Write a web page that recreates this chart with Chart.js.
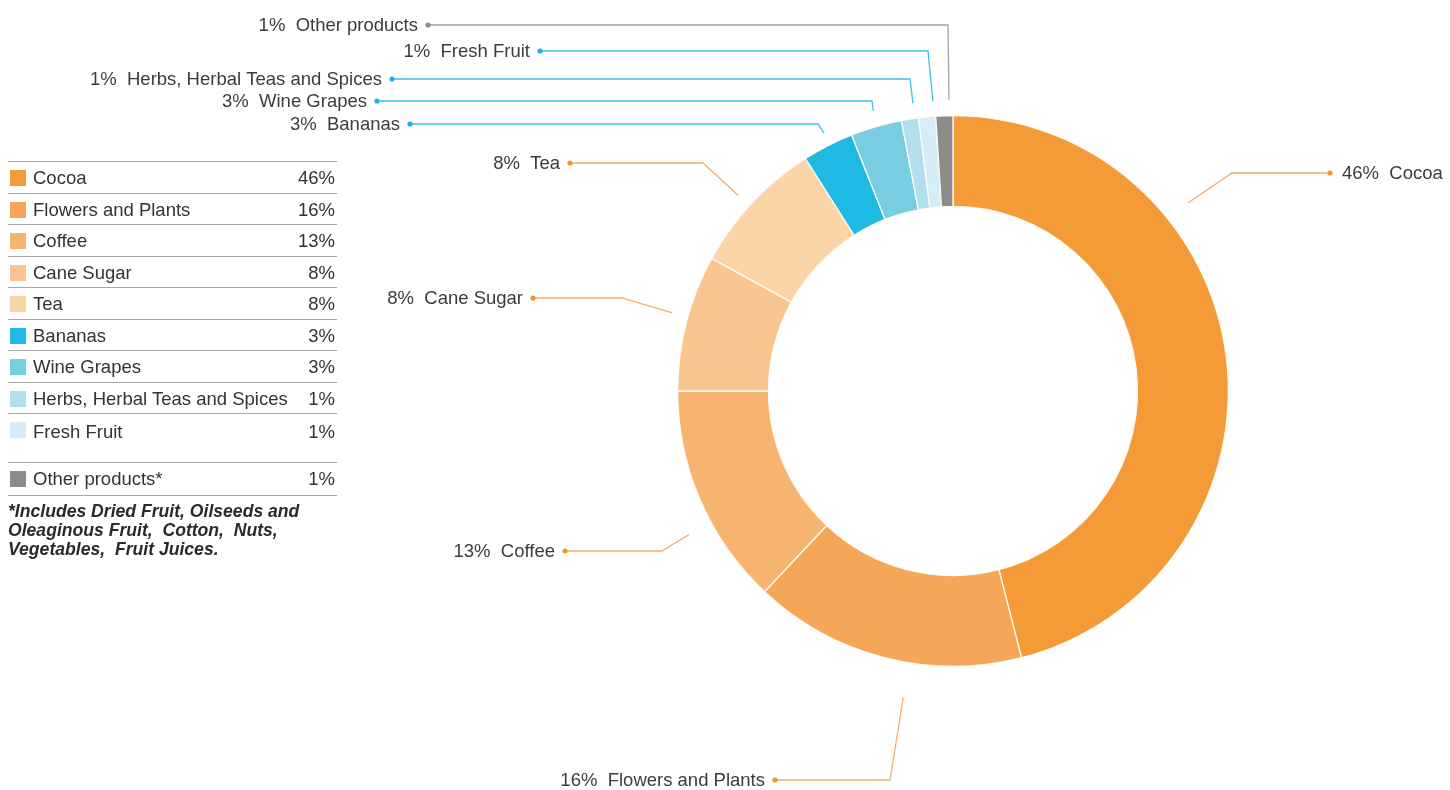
<!DOCTYPE html>
<html>
<head>
<meta charset="utf-8">
<script src="https://cdn.jsdelivr.net/npm/chart.js@4.4.1/dist/chart.umd.min.js"></script>
<style>
  body { margin: 0; background: #fff; font-family: "Liberation Sans", Arial, sans-serif; }
  #wrap { position: relative; width: 1450px; height: 790px; }
  #chart { position: absolute; left: 0; top: 0; }
  #legend { position: absolute; left: 8px; top: 161px; width: 329px; color: #333; font-size: 18.5px; }
  .row { position: relative; height: 31.5px; border-top: 1.5px solid #a8a8a8; box-sizing: border-box; }
  .row .sw { position: absolute; left: 2px; top: 8px; width: 16px; height: 16px; }
  .row .nm { position: absolute; left: 25px; top: 5px; white-space: nowrap; }
  .row .pc { position: absolute; right: 2px; top: 5px; }
  .row.tall { height: 49px; }
  .row.tall .nm, .row.tall .pc { top: 7px; }
  .row.last { border-bottom: 1.5px solid #a8a8a8; height: 34px; }
  #note { position: absolute; left: 8px; top: 502px; width: 330px; font-size: 17.6px; font-style: italic; font-weight: bold; line-height: 19px; color: #2a2a2a; }
</style>
</head>
<body>
<div id="wrap">
  <canvas id="chart" width="1450" height="790"></canvas>
  <div id="legend"></div>
  <div id="note"></div>
</div>
<script>
const categories = ["Cocoa", "Flowers and Plants", "Coffee", "Cane Sugar", "Tea", "Bananas",
  "Wine Grapes", "Herbs, Herbal Teas and Spices", "Fresh Fruit", "Other products"];
const shares = [46, 16, 13, 8, 8, 3, 3, 1, 1, 1];
const sliceColors = ["#f49a36", "#f6a657", "#f7b470", "#f9c590", "#fbd4a8", "#1fbae4",
  "#79cde1", "#b2dfec", "#d5edf6", "#8c8c8c"];
const footnote = "*Includes Dried Fruit, Oilseeds and<br>Oleaginous Fruit,&nbsp; Cotton,&nbsp; Nuts,<br>Vegetables,&nbsp; Fruit Juices.";

// where each leader line leaves its slice (fraction along the arc, gap beyond the ring),
// then the elbow point and the dot where the label sits
const callouts = [
  { frac: 0.31, gap: 26, elbow: [1232, 173], dotX: 1330 },
  { frac: 0.41, gap: 35, elbow: [890, 780], dotX: 775 },
  { frac: 0.39, gap: 25, elbow: [662, 551], dotX: 565 },
  { frac: 0.54, gap: 16, elbow: [622, 298], dotX: 533 },
  { frac: 0.47, gap: 15, elbow: [703, 163], dotX: 570 },
  { frac: 0.54, gap: 13, elbow: [818, 124], dotX: 410 },
  { frac: 0.53, gap: 16, elbow: [872, 101], dotX: 377 },
  { frac: 0.8, gap: 15, elbow: [910, 79], dotX: 392 },
  { frac: 0.9, gap: 15, elbow: [928, 51], dotX: 540 },
  { frac: 0.78, gap: 16, elbow: [948, 25], dotX: 428 }
];

function leaderColor(i) {
  if (i <= 4) return { line: "#f7ad6c", dot: "#f39632" };
  if (i <= 8) return { line: "#3fbfe6", dot: "#1ab3e3" };
  return { line: "#a3a3a3", dot: "#8a8a8a" };
}

const calloutPlugin = {
  id: "callouts",
  afterDatasetsDraw(chart) {
    const ctx = chart.ctx;
    const arcs = chart.getDatasetMeta(0).data;
    ctx.save();
    ctx.font = "18.5px 'Liberation Sans', Arial, sans-serif";
    ctx.textBaseline = "middle";
    arcs.forEach((arc, i) => {
      const c = callouts[i];
      const a = arc.startAngle + (arc.endAngle - arc.startAngle) * c.frac;
      const r = arc.outerRadius + c.gap;
      const sx = arc.x + r * Math.cos(a);
      const sy = arc.y + r * Math.sin(a);
      const col = leaderColor(i);
      ctx.strokeStyle = col.line;
      ctx.lineWidth = 1.3;
      ctx.beginPath();
      ctx.moveTo(sx, sy);
      ctx.lineTo(c.elbow[0], c.elbow[1]);
      ctx.lineTo(c.dotX, c.elbow[1]);
      ctx.stroke();
      ctx.fillStyle = col.dot;
      ctx.beginPath();
      ctx.arc(c.dotX, c.elbow[1], 2.6, 0, Math.PI * 2);
      ctx.fill();
      ctx.fillStyle = "#3c3c3c";
      const txt = shares[i] + "%\u00a0 " + categories[i];
      const right = c.dotX > c.elbow[0];
      ctx.textAlign = right ? "left" : "right";
      ctx.fillText(txt, right ? c.dotX + 12 : c.dotX - 10, c.elbow[1] + 1);
    });
    ctx.restore();
  }
};

new Chart(document.getElementById("chart"), {
  type: "doughnut",
  data: {
    labels: categories,
    datasets: [{
      data: shares,
      backgroundColor: sliceColors,
      borderColor: "#fffaf4",
      borderWidth: 1.3
    }]
  },
  options: {
    responsive: false,
    animation: false,
    cutout: "67%",
    layout: { padding: { left: 677, right: 221, top: 115, bottom: 123 } },
    plugins: { legend: { display: false }, tooltip: { enabled: false } }
  },
  plugins: [calloutPlugin]
});

// legend table on the left
const legend = document.getElementById("legend");
categories.forEach((name, i) => {
  const row = document.createElement("div");
  row.className = "row" + (i === 8 ? " tall" : "") + (i === 9 ? " last" : "");
  row.innerHTML = '<span class="sw" style="background:' + sliceColors[i] + '"></span>' +
    '<span class="nm">' + name + (i === 9 ? "*" : "") + '</span>' +
    '<span class="pc">' + shares[i] + '%</span>';
  legend.appendChild(row);
});
document.getElementById("note").innerHTML = footnote;
</script>
</body>
</html>
